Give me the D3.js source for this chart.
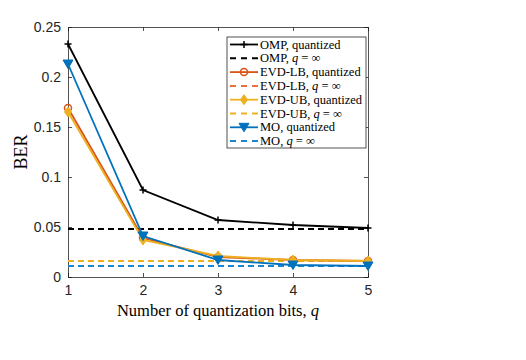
<!DOCTYPE html>
<html>
<head>
<meta charset="utf-8">
<script src="https://cdn.jsdelivr.net/npm/d3@7"></script>
<style>
  body { margin: 0; background: #fff; }
  svg { display: block; }
</style>
</head>
<body>
<script>
// Screen dimensions.
const WIDTH = 526;
const HEIGHT = 360;

// Data.
const bits = [1, 2, 3, 4, 5];
const ompQuant = [0.233, 0.087, 0.057, 0.052, 0.049];
const ompInf = 0.048;
const evdLbQuant = [0.169, 0.039, 0.020, 0.017, 0.016];
const evdLbInf = 0.016;
const evdUbQuant = [0.165, 0.037, 0.021, 0.017, 0.016];
const evdUbInf = 0.016;
const moQuant = [0.213, 0.041, 0.017, 0.012, 0.011];
const moInf = 0.011;
const yTicks = [0, 0.05, 0.1, 0.15, 0.2, 0.25];

const series = [
  { name: "OMP, quantized", vals: ompQuant, color: "#000000", marker: "plus", dash: null },
  { name: "OMP, ", inf: true, vals: bits.map(() => ompInf), color: "#000000", dash: "6,4" },
  { name: "EVD-LB, quantized", vals: evdLbQuant, color: "#D95319", marker: "circle", dash: null },
  { name: "EVD-LB, ", inf: true, vals: bits.map(() => evdLbInf), color: "#E8703A", dash: "6,4" },
  { name: "EVD-UB, quantized", vals: evdUbQuant, color: "#EDB120", marker: "diamond", dash: null },
  { name: "EVD-UB, ", inf: true, vals: bits.map(() => evdUbInf), color: "#EDB120", dash: "6,4" },
  { name: "MO, quantized", vals: moQuant, color: "#0072BD", marker: "tri", dash: null },
  { name: "MO, ", inf: true, vals: bits.map(() => moInf), color: "#1A86D0", dash: "6,4" }
];

const margin = { left: 68, top: 27, right: WIDTH - 368, bottom: HEIGHT - 277 };

const svg = d3.select("body").append("svg").attr("width", WIDTH).attr("height", HEIGHT);

const x = d3.scaleLinear().domain([1, 5]).range([margin.left, WIDTH - margin.right]);
const y = d3.scaleLinear().domain([0, 0.25]).range([HEIGHT - margin.bottom, margin.top]);

const axisColor = "#262626";
const tickFont = "'Liberation Sans', Arial, Helvetica, sans-serif";
const serif = "'Liberation Serif', 'Times New Roman', serif";

// Axes (ticks inside, like MATLAB)
const gx = svg.append("g").attr("transform", `translate(0,${y(0)})`)
  .call(d3.axisBottom(x).tickValues(bits).tickSize(-4).tickPadding(8).tickFormat(d3.format("d")));
const gxTop = svg.append("g").attr("transform", `translate(0,${y(0.25)})`)
  .call(d3.axisTop(x).tickValues(bits).tickSize(-4).tickFormat(""));
const gy = svg.append("g").attr("transform", `translate(${x(1)},0)`)
  .call(d3.axisLeft(y).tickValues(yTicks).tickSize(-4).tickPadding(7)
    .tickFormat(d => d === 0 ? "0" : String(d)));
const gyRight = svg.append("g").attr("transform", `translate(${x(5)},0)`)
  .call(d3.axisRight(y).tickValues(yTicks).tickSize(-4).tickFormat(""));

[gx, gxTop, gy, gyRight].forEach(g => {
  g.selectAll(".domain").attr("stroke", axisColor).attr("stroke-width", 0.8);
  g.selectAll(".tick line").attr("stroke", axisColor).attr("stroke-width", 0.8);
  g.selectAll("text").attr("fill", axisColor).style("font-family", tickFont).style("font-size", "14px");
});

// Axis labels
svg.append("text")
  .attr("x", x(3)).attr("y", 316)
  .attr("text-anchor", "middle")
  .style("font-family", serif).style("font-size", "16.5px").attr("fill", "#000")
  .html("Number of quantization bits, <tspan font-style='italic'>q</tspan>");

svg.append("text")
  .attr("transform", `translate(27,${(y(0) + y(0.25)) / 2}) rotate(-90)`)
  .attr("text-anchor", "middle")
  .style("font-family", serif).style("font-size", "18px").attr("fill", "#000")
  .text("BER");

// Markers
function drawMarker(g, type, cx, cy, color) {
  if (type === "plus") {
    g.append("path").attr("d", `M${cx - 3.5},${cy}H${cx + 3.5}M${cx},${cy - 3.5}V${cy + 3.5}`)
      .attr("stroke", color).attr("stroke-width", 1.5);
  } else if (type === "circle") {
    g.append("circle").attr("cx", cx).attr("cy", cy).attr("r", 3.5)
      .attr("fill", "none").attr("stroke", color).attr("stroke-width", 1.5);
  } else if (type === "diamond") {
    g.append("path").attr("d", `M${cx},${cy - 5}L${cx + 3.5},${cy}L${cx},${cy + 5}L${cx - 3.5},${cy}Z`)
      .attr("fill", color).attr("stroke", color).attr("stroke-width", 1);
  } else if (type === "tri") {
    g.append("path").attr("d", `M${cx - 5},${cy - 4}L${cx + 5},${cy - 4}L${cx},${cy + 4.5}Z`)
      .attr("fill", color).attr("stroke", color).attr("stroke-width", 1);
  }
}

const line = d3.line().x((d, i) => x(bits[i])).y(d => y(d));

// Draw dashed reference lines first, then quantized curves
const order = [1, 3, 5, 7, 0, 2, 4, 6];
order.forEach(k => {
  const s = series[k];
  const g = svg.append("g");
  g.append("path").attr("d", line(s.vals))
    .attr("fill", "none").attr("stroke", s.color)
    .attr("stroke-width", s.dash ? 2 : 1.8)
    .attr("stroke-dasharray", s.dash);
  if (s.marker) {
    s.vals.forEach((v, i) => drawMarker(g, s.marker, x(bits[i]), y(v), s.color));
  }
});

// Legend
const legend = svg.append("g");
const lx = 227, ly = 37, lw = 139, lh = 111;
legend.append("rect").attr("x", lx).attr("y", ly).attr("width", lw).attr("height", lh)
  .attr("fill", "#fff").attr("stroke", axisColor).attr("stroke-width", 0.8);

series.forEach((s, i) => {
  const yy = ly + 7.5 + i * 13.8;
  legend.append("path").attr("d", `M${lx + 3},${yy}H${lx + 31}`)
    .attr("stroke", s.color).attr("stroke-width", s.dash ? 2 : 1.8)
    .attr("stroke-dasharray", s.dash ? "6,5" : null);
  if (s.marker) drawMarker(legend, s.marker, lx + 17, yy, s.color);
  const t = legend.append("text").attr("x", lx + 33).attr("y", yy + 4)
    .style("font-family", serif).style("font-size", "12.5px").attr("fill", "#000");
  if (s.inf) {
    t.text(s.name);
    t.append("tspan").attr("font-style", "italic").text("q");
    t.append("tspan").text(" = \u221E");
  } else {
    t.text(s.name);
  }
});
</script>
</body>
</html>
